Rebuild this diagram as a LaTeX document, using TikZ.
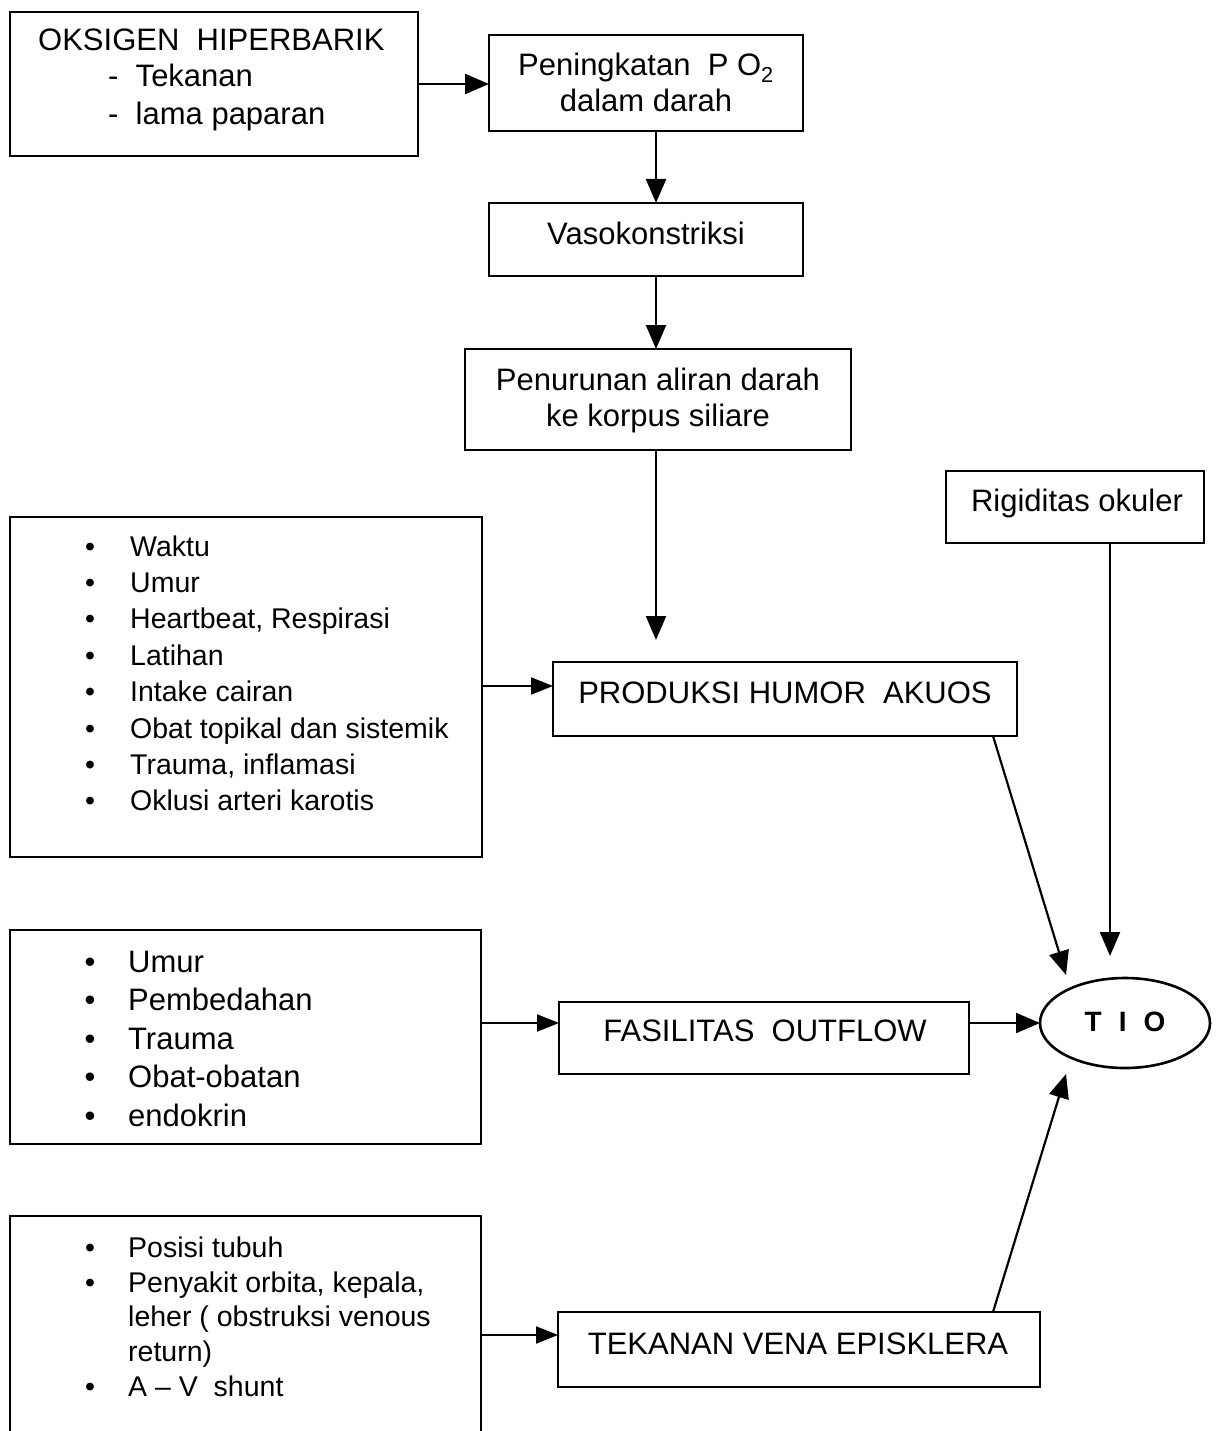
\documentclass[tikz,border=0pt]{standalone}
\usepackage{fontspec}
\setmainfont{Liberation Sans}
\usetikzlibrary{arrows.meta,shapes.geometric}
\begin{document}
\begin{tikzpicture}[x=1pt,y=-1pt,
  box/.style={draw,line width=2pt,inner sep=0pt,outer sep=0pt},
  arr/.style={line width=2.2pt,-{Triangle[length=24pt,width=20pt]}},
  arrs/.style={line width=2pt,-{Triangle[length=22pt,width=17pt]}},
  tx/.style={inner sep=0pt,anchor=base,font=\fontsize{31}{37}\selectfont},
  tl/.style={inner sep=0pt,anchor=base west,font=\fontsize{31}{37}\selectfont},
  li/.style={inner sep=0pt,anchor=base west,font=\fontsize{28.5}{34}\selectfont},
  bu/.style={inner sep=0pt,anchor=base,font=\fontsize{28.5}{34}\selectfont}]
\useasboundingbox (0,0) rectangle (1216,1431);
\clip (0,0) rectangle (1216,1431);
\fill[white] (0,0) rectangle (1216,1431);

% boxes
\node[box,minimum width=408pt,minimum height=144pt] (oks) at (214,84) {};
\node[box,minimum width=314pt,minimum height=96pt] (pen) at (646,83) {};
\node[box,minimum width=314pt,minimum height=73pt] (vaso) at (646,239.5) {};
\node[box,minimum width=386pt,minimum height=101pt] (penur) at (658,399.5) {};
\node[box,minimum width=258pt,minimum height=72pt] (rig) at (1075,507) {};
\node[box,minimum width=472pt,minimum height=340pt] (lb1) at (246,687) {};
\node[box,minimum width=464pt,minimum height=74pt] (prod) at (785,699) {};
\node[box,minimum width=471pt,minimum height=214pt] (lb2) at (245.5,1037) {};
\node[box,minimum width=410pt,minimum height=72pt] (fas) at (764,1038) {};
\node[box,line width=2.6pt,ellipse,minimum width=170pt,minimum height=90pt] (tio) at (1125,1023) {};
\node[box,minimum width=471pt,minimum height=250pt] (lb3) at (245.5,1341) {};
\node[box,minimum width=482pt,minimum height=75pt] (tek) at (799,1349.5) {};

% texts
\node[tl] (t1) at (38,51) {OKSIGEN\ \ HIPERBARIK};
\node[tl] (t2) at (108,87) {-\ \ Tekanan};
\node[tl] (t3) at (108,125) {-\ \ lama paparan};
\node[tx] (t4) at (646,76) {Peningkatan\ \ P O\textsubscript{2}};
\node[tx] (t5) at (646,112) {dalam darah};
\node[tx] (t6) at (646,244) {Vasokonstriksi};
\node[tx] (t7) at (658,390) {Penurunan aliran darah};
\node[tx] (t8) at (658,426) {ke korpus siliare};
\node[tx] (t9) at (1077,511) {Rigiditas okuler};
\node[tx] (t10) at (785,703) {PRODUKSI HUMOR\ \ AKUOS};
\node[tx] (t11) at (765,1041) {FASILITAS\ \ OUTFLOW};
\node[tx] (t12) at (798,1354) {TEKANAN VENA EPISKLERA};
\node[inner sep=0pt,font=\fontsize{28}{30}\selectfont\bfseries] (t13) at (1125,1022) {T\hspace{17pt}I\hspace{17pt}O};

% list 1
\foreach \t [count=\i] in {Waktu,Umur,{Heartbeat, Respirasi},Latihan,Intake cairan,Obat topikal dan sistemik,{Trauma, inflamasi},Oklusi arteri karotis}{
  \node[bu] (ba\i) at (90,556+36.4*\i-36.4) {•};
  \node[li] (la\i) at (130,556+36.4*\i-36.4) {\t};
}
% list 2
\foreach \t [count=\i] in {Umur,Pembedahan,Trauma,Obat-obatan,endokrin}{
  \node[bu,font=\fontsize{31}{37}\selectfont] (bb\i) at (90,972+38.5*\i-38.5) {•};
  \node[li,font=\fontsize{31}{37}\selectfont] (lbt\i) at (128,972+38.5*\i-38.5) {\t};
}
% list 3
\node[bu] (bc1) at (90,1257) {•};
\node[li] (lc1) at (128,1257) {Posisi tubuh};
\node[bu] (bc2) at (90,1292) {•};
\node[li] (lc2) at (128,1292) {Penyakit orbita, kepala,};
\node[li] (lc3) at (128,1326) {leher ( obstruksi venous};
\node[li] (lc4) at (128,1361) {return)};
\node[bu] (bc5) at (90,1396) {•};
\node[li] (lc5) at (128,1396) {A -- V\ \ shunt};

% connectors
\draw[arr] (oks.east) -- (oks.east -| pen.west);
\draw[arr] ([xshift=10pt]pen.south) -- ([xshift=10pt]vaso.north);
\draw[arr] ([xshift=10pt]vaso.south) -- ([xshift=-2pt]penur.north);
\coordinate (pst) at ([xshift=-2pt]penur.south);
\coordinate (pend) at (656,640);
\draw[arr] (pst) -- (pend);
\coordinate (rigs) at (1110,543);
\coordinate (rigend) at (1110,956);
\draw[arr] (rigs) -- (rigend);
\coordinate (a1) at ([yshift=1pt]lb1.east);
\draw[arrs] (a1) -- (a1 -| prod.west);
\coordinate (ps) at (993,736);
\coordinate (pend2) at (1066,975);
\draw[arr] (ps) -- (pend2);
\coordinate (a2) at ([yshift=14pt]lb2.east);
\draw[arrs] (a2) -- (a2 -| fas.west);
\draw[arr] (tio.west -| fas.east) -- (tio.west);
\coordinate (a3) at (481,1335);
\draw[arrs] (a3) -- (a3 -| tek.west);
\coordinate (tn) at (993,1312);
\coordinate (tend) at (1066,1074);
\draw[arr] (tn) -- (tend);
\end{tikzpicture}
\end{document}
